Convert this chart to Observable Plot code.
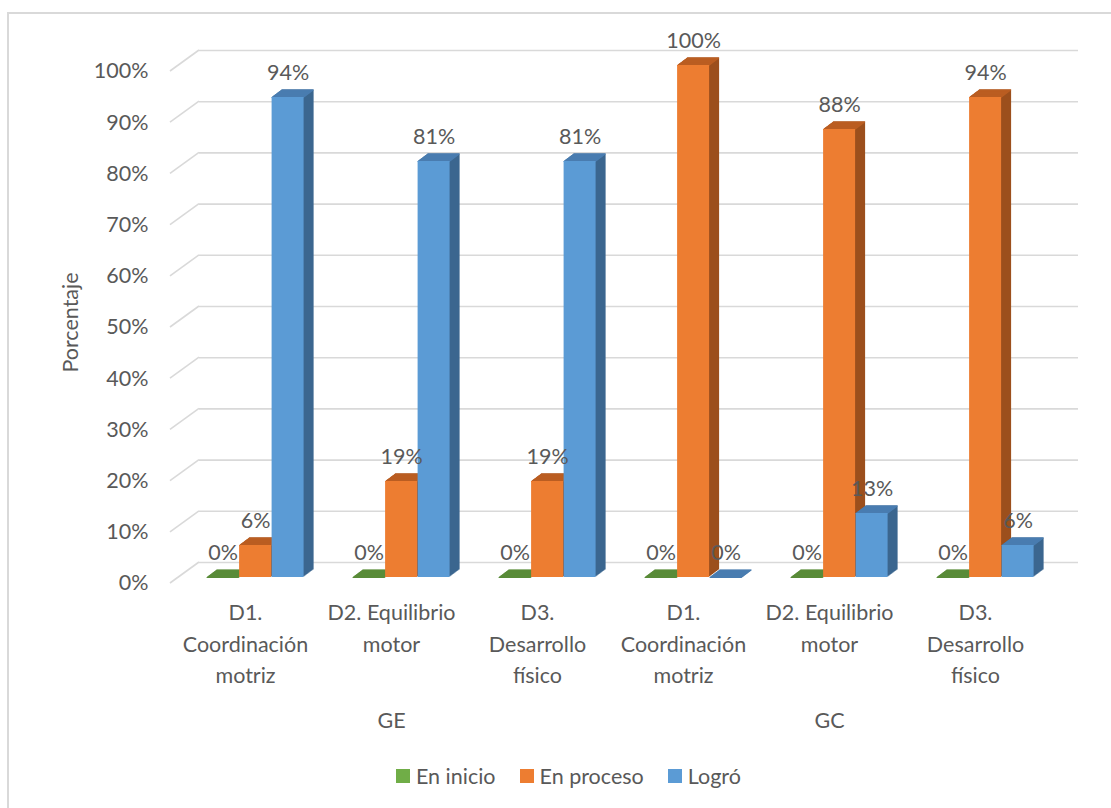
<!DOCTYPE html>
<html>
<head>
<meta charset="utf-8">
<script src="https://cdn.jsdelivr.net/npm/d3@7"></script>
<script src="https://cdn.jsdelivr.net/npm/@observablehq/plot@0.6"></script>
<style>
  body { margin: 0; background: #fff; font-family: Lato, "Open Sans", sans-serif; }
  #wrap { position: relative; width: 1111px; height: 808px; overflow: hidden; }
  #frame { position: absolute; left: 7px; top: 12px; width: 1200px; height: 900px; border: 2px solid #d9d9d9; box-sizing: border-box; }
  #chart { position: absolute; left: 0; top: 0; }
  #legend { position: absolute; left: 396px; top: 763px; display: flex; align-items: center; font-size: 21.5px; color: #595959; }
  #legend .item { display: flex; align-items: center; margin-right: 24px; }
  #legend .sw { width: 14px; height: 14px; margin-right: 6px; }
</style>
</head>
<body>
<div id="wrap">
  <div id="frame"></div>
  <div id="chart"></div>
  <div id="legend"></div>
</div>
<script>
// ---- data ----
const groups = ["GE", "GC"];
const dimensions = ["D1. Coordinación motriz", "D2. Equilibrio motor", "D3. Desarrollo físico"];
const dimensionLabels = ["D1.\nCoordinación\nmotriz", "D2. Equilibrio\nmotor", "D3.\nDesarrollo\nfísico"];
const series = ["En inicio", "En proceso", "Logró"];
// values per category, order: GE D1, GE D2, GE D3, GC D1, GC D2, GC D3 (percent)
const enInicio  = [0, 0, 0, 0, 0, 0];
const enProceso = [6.25, 18.75, 18.75, 100, 87.5, 93.75];
const logro     = [93.75, 81.25, 81.25, 0, 12.5, 6.25];
const yTicks = [0, 10, 20, 30, 40, 50, 60, 70, 80, 90, 100];
const axisTitle = "Porcentaje";

// ---- styles ----
const frontColors = ["#70AD47", "#ED7D31", "#5B9BD5"];
const topColors   = ["#5A8B39", "#BA5E22", "#4A7DB0"];
const sideColors  = ["#4B7430", "#9C4F1C", "#3B668F"];
const textColor = "#595959";
const gridColor = "#d9d9d9";
const FS = 21.5;
const DX = 29, DY = 21;          // wall depth
const BDX = 10, BDY = 7.5;       // bar depth
const BAR_LIFT = 6;

const keys = groups.flatMap(g => dimensions.map(d => g + "|" + d));
const valuesBySeries = [enInicio, enProceso, logro];
const rows = series.map((s, si) => keys.map((k, i) => ({key: k, series: s, value: valuesBySeries[si][i]})));

const bandW = (1049 - 170) / keys.length;
const barStart = 34.6, barW = 32.5;
const insets = series.map((s, si) => {
  const l = barStart + si * barW;
  return {insetLeft: l, insetRight: bandW - l - barW};
});
const labelDx = series.map((s, si) => barStart + si * barW + barW / 2 - bandW / 2);

function slants(index, scales, values, dims) {
  const g = d3.create("svg:g").attr("stroke", gridColor).attr("stroke-width", 1.6);
  for (const t of yTicks) {
    const y = scales.y(t);
    g.append("line")
      .attr("x1", dims.marginLeft).attr("y1", y)
      .attr("x2", dims.marginLeft + DX).attr("y2", y - DY);
  }
  return g.node();
}

const marks = [
  Plot.ruleY(yTicks, {y: d => d, dx: DX, dy: -DY, stroke: gridColor, strokeWidth: 1.6}),
  slants
];
series.forEach((s, si) => {
  const opt = {x: "key", y: "value", ...insets[si]};
  for (let k = 1; k <= BDX; k++) {
    marks.push(Plot.barY(rows[si], {...opt, fill: sideColors[si], dx: k, dy: -BAR_LIFT - k * BDY / BDX}));
  }
  for (let k = 0; k <= BDX; k += 0.5) {
    marks.push(Plot.tickY(rows[si], {...opt, stroke: topColors[si], strokeWidth: 1.2, dx: k, dy: -BAR_LIFT - k * BDY / BDX}));
  }
  marks.push(Plot.barY(rows[si], {...opt, fill: frontColors[si], dy: -BAR_LIFT}));
});
series.forEach((s, si) => {
  marks.push(Plot.text(rows[si], {
    x: "key", y: "value", text: d => Math.round(d.value) + "%",
    dx: labelDx[si], dy: -BAR_LIFT - 24.5, lineAnchor: "middle",
    fontSize: FS, fill: textColor
  }));
});
marks.push(
  Plot.text(keys, {x: d => d, text: (d, i) => dimensionLabels[i % dimensions.length],
    frameAnchor: "bottom", lineAnchor: "top", dy: 14, lineHeight: 1.47, fontSize: FS, fill: textColor}),
  Plot.text(groups, {x: g => g + "|" + dimensions[1], text: d => d,
    frameAnchor: "bottom", lineAnchor: "middle", dy: 138, fontSize: FS, fill: textColor}),
  Plot.axisY(yTicks, {tickSize: 0, tickPadding: 22, tickFormat: d => d + "%", fontSize: FS, color: textColor, label: null}),
  Plot.text([axisTitle], {text: d => d, frameAnchor: "left", dx: -99, dy: -5, rotate: -90,
    textAnchor: "middle", lineAnchor: "middle", fontSize: FS, fill: textColor})
);

const chart = Plot.plot({
  width: 1111,
  height: 745,
  marginLeft: 170,
  marginRight: 62,
  marginTop: 71,
  marginBottom: 162,
  style: {fontFamily: "Lato, 'Open Sans', sans-serif", background: "transparent", overflow: "visible"},
  x: {type: "band", domain: keys, padding: 0, axis: null},
  y: {domain: [0, 100], axis: null, label: null},
  marks
});
document.getElementById("chart").appendChild(chart);

const legend = document.getElementById("legend");
series.forEach((s, si) => {
  const item = document.createElement("div");
  item.className = "item";
  const sw = document.createElement("div");
  sw.className = "sw";
  sw.style.background = frontColors[si];
  const t = document.createElement("span");
  t.textContent = s;
  item.appendChild(sw); item.appendChild(t);
  legend.appendChild(item);
});
</script>
</body>
</html>
